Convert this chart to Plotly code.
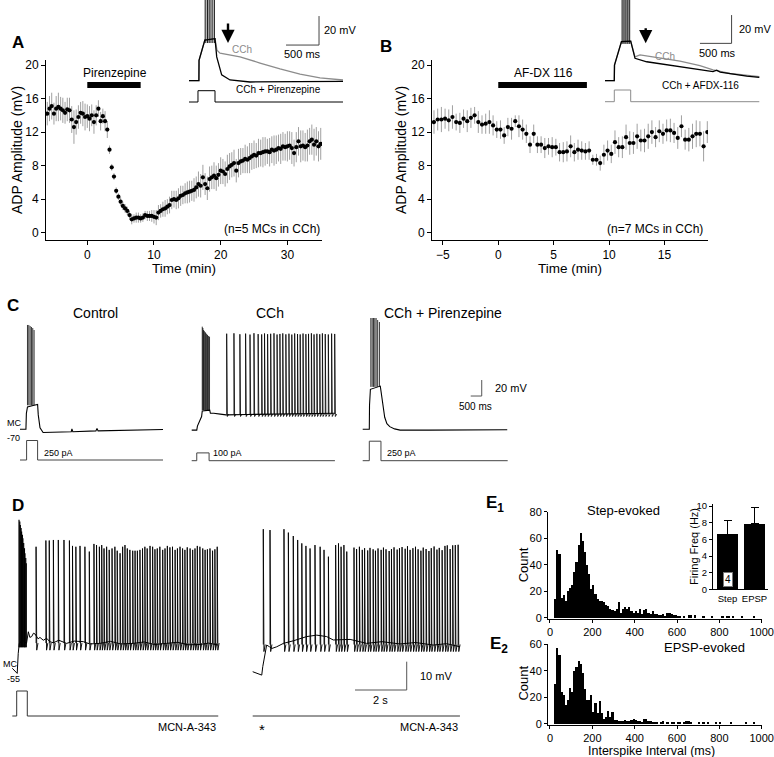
import numpy as np
import plotly.graph_objects as go

W, H = 774, 757
FONT = "Liberation Sans, Arial, sans-serif"
GREY = "#8c8c8c"
ERR_GREY = "#a0a0a0"
BAR_GREY = "#555555"

# ---------------- A: ADP amplitude during pirenzepine (20 s bins from -6 min)
a_start, a_bin = -6.0, 1 / 3
a_adp = [14.2, 14.8, 15.1, 14.2, 14.8, 15.0, 14.8, 14.6, 14.3, 14.7, 14.6, 13.5,
         12.6, 13.2, 13.8, 14.3, 14.2, 13.8, 13.9, 13.6, 14.0, 13.2, 14.0, 14.8,
         13.3, 13.9, 13.3, 12.3, 9.9, 7.8, 6.7, 5.0, 4.3, 3.7, 3.2, 2.9,
         2.6, 2.1, 1.6, 1.7, 1.8, 1.8, 1.7, 1.8, 2.1, 2.0, 2.0, 2.0,
         1.9, 1.8, 2.4, 2.6, 2.8, 2.9, 3.1, 3.3, 3.9, 4.0, 3.9, 4.1,
         4.4, 4.5, 4.7, 4.8, 4.9, 5.0, 5.1, 5.4, 5.8, 5.6, 6.6, 5.8,
         5.3, 6.4, 6.6, 6.8, 6.5, 6.9, 7.4, 7.3, 7.0, 7.6, 7.9, 8.1,
         8.3, 7.4, 8.3, 8.5, 8.6, 8.8, 8.7, 8.9, 9.1, 9.3, 9.2, 9.5,
         9.5, 9.6, 9.7, 9.7, 9.6, 9.9, 9.8, 9.9, 10.1, 10.0, 10.3, 10.2,
         10.3, 10.4, 10.1, 9.5, 10.2, 10.9, 10.3, 10.4, 10.2, 10.4, 10.9, 11.1,
         10.5, 10.9, 10.3, 10.6]
a_sem = [1.4, 1.5, 1.6, 1.3, 1.5, 1.7, 1.4, 1.5, 1.3, 1.4, 1.5, 1.6,
         2.0, 1.5, 1.4, 1.3, 1.5, 1.6, 1.4, 1.5, 1.3, 1.4, 1.2, 1.0,
         1.1, 0.9, 1.2, 1.0, 0.5, 0.4, 0.4, 0.4, 0.4, 0.5, 0.5, 0.5,
         0.5, 0.5, 0.6, 0.5, 0.6, 0.6, 0.5, 0.5, 0.5, 0.6, 0.6, 0.7,
         0.8, 0.9, 0.9, 0.8, 0.9, 1.0, 0.9, 1.0, 1.1, 1.0, 1.1, 1.2,
         1.2, 1.1, 1.2, 1.3, 1.3, 1.2, 1.4, 1.3, 1.5, 1.4, 1.5, 1.3,
         1.4, 1.5, 1.4, 1.6, 1.5, 1.4, 1.6, 1.5, 1.5, 1.7, 1.6, 1.5,
         1.6, 1.4, 1.7, 1.6, 1.5, 1.7, 1.6, 1.8, 1.6, 1.7, 1.5, 1.7,
         1.6, 1.8, 1.7, 1.5, 1.7, 1.6, 1.8, 1.7, 1.6, 1.8, 1.7, 1.6,
         1.8, 1.7, 1.9, 1.6, 1.8, 1.7, 1.9, 1.8, 1.7, 1.9, 1.6, 1.8,
         1.9, 1.7, 1.8, 1.9]

# ---------------- B: ADP amplitude during AF-DX 116
b_start, b_bin = -5.8, 1 / 3
b_adp = [13.2, 13.5, 13.5, 13.6, 13.4, 13.8, 13.2, 13.1, 13.6, 13.3, 13.7, 14.0,
         13.2, 12.9, 13.0, 13.2, 12.8, 12.3, 12.3, 11.6, 12.6, 12.4, 13.3, 12.7,
         12.3, 11.8, 10.5, 11.8, 10.5, 10.5, 10.1, 10.3, 10.2, 10.2, 9.6, 9.6,
         9.7, 10.3, 9.6, 9.9, 9.8, 9.7, 9.8, 8.7, 8.7, 8.3, 9.3, 9.8,
         9.4, 10.8, 10.2, 10.2, 11.4, 10.7, 10.7, 11.5, 11.0, 11.0, 11.5, 12.0,
         11.4, 12.1, 11.8, 12.2, 12.2, 11.9, 11.3, 12.7, 11.1, 11.1, 11.5, 11.8,
         11.8, 10.3, 12.0]
b_sem = [1.4, 1.3, 1.5, 1.2, 1.3, 1.4, 1.0, 1.2, 1.1, 1.3, 1.2, 1.0,
         1.3, 1.1, 1.2, 1.4, 1.2, 1.0, 1.1, 1.0, 1.1, 1.3, 0.7, 1.3,
         1.2, 1.1, 1.0, 1.1, 1.0, 1.0, 1.2, 1.0, 1.2, 1.0, 1.1, 1.2,
         1.2, 1.3, 1.1, 1.2, 1.1, 1.0, 1.1, 0.6, 0.7, 0.9, 1.2, 1.2,
         1.1, 1.4, 1.2, 1.3, 1.5, 1.4, 1.3, 1.5, 1.3, 1.4, 1.5, 1.4,
         1.2, 1.3, 1.2, 1.3, 1.4, 1.2, 1.3, 1.3, 1.2, 1.4, 1.5, 1.6,
         1.5, 1.8, 1.3]

# ---------------- A/B insets: example traces (ms, mV)
ia_cch_t = [0, 150, 152, 240, 394, 424, 470, 773, 1076, 1379, 1682, 1985, 2333]
ia_cch_v = [-70, -70, -56, -42, -41, -49, -51, -53.6, -57.8, -61.9, -65.4, -68.1, -69.5]
ia_pir_t = [0, 150, 152, 240, 394, 420, 495, 621, 924, 1500, 2333]
ia_pir_v = [-70, -70, -56, -42, -41, -53.6, -66, -69.5, -70.9, -70.6, -70.4]
ia_spk_pir = [245, 280, 315, 350, 385]
ia_spk_cch = [260, 295, 330, 365]
ia_step = (136, 394, 250, 2333)          # on, off, pA, end

ib_cch_t = [0, 147, 150, 260, 406, 474, 553, 869, 1185, 1500, 1706, 1975, 2438]
ib_cch_v = [-70, -70, -59, -42.4, -42, -53.2, -51.8, -54, -56.1, -59.3, -62.4, -64.9, -67.2]
ib_afdx_t = [0, 147, 150, 260, 406, 474, 659, 1185, 1706, 1765, 1820, 2239, 2438]
ib_afdx_v = [-70, -70, -59, -42.4, -42, -54.2, -56.6, -60.1, -63.6, -62.6, -63.9, -66.7, -67.6]
ib_spk_afdx = [270, 300, 330, 360, 390]
ib_spk_cch = [285, 315, 345, 375]
ib_step = (147, 406, 250, 2438)

# ---------------- C: step-evoked firing (s, mV)
c_ctl_t = [0, 0.27, 0.29, 0.32, 0.34, 0.64, 0.80, 0.83, 0.91, 1.05, 1.5, 2.33, 2.36,
           2.4, 3.45, 3.5, 3.55, 4.5, 5.5, 6.5]
c_ctl_v = [-70, -70, -50, -45, -42, -40, -39, -52, -68, -74, -73.5, -73, -69.5,
           -73, -72, -69, -72, -71.2, -70.6, -70.3]
c_ctl_spk_t = [0.34, 0.40, 0.46, 0.52, 0.58, 0.64]
c_ctl_spk_v = [60.4, 60.4, 59.1, 57.9, 56.6, 54.1]
c_ctl_step = (0.30, 0.80, 250, 6.5)

c_cch_t = [0, 0.23, 0.26, 0.38, 0.45, 0.48, 0.82, 0.85, 1.0, 1.3, 1.56, 2.5, 3.5, 4.5, 5.5, 6.5]
c_cch_v = [-71, -71, -66, -58, -54, -47, -46, -50, -50, -51, -52, -51.5, -51, -50.5, -50, -50]
c_cch_burst_t = [0.48, 0.51, 0.54, 0.57, 0.61, 0.64, 0.68, 0.72, 0.76, 0.81]
c_cch_burst_v = [58.3, 56.6, 54.1, 52.9, 51.6, 50.4, 49.1, 47.9, 46.6, 45.8]
c_cch_spk_t = [1.59, 1.92, 2.19, 2.45, 2.65, 2.83, 3.02, 3.18, 3.31, 3.45, 3.59, 3.74,
               3.88, 4.01, 4.14, 4.28, 4.42, 4.55, 4.68, 4.81, 4.93, 5.06, 5.19, 5.31,
               5.44, 5.56, 5.69, 5.82, 5.94, 6.07, 6.21, 6.36, 6.50]
c_cch_spk_v = [49.5, 50.0, 48.8, 49.6, 48.4, 50.1, 49.0, 48.6, 49.8, 48.9, 49.4, 50.0,
               48.5, 49.2, 49.9, 48.7, 49.5, 48.4, 49.8, 49.1, 48.6, 49.7, 48.9, 49.3,
               50.0, 48.6, 49.4, 48.8, 49.9, 49.0, 48.5, 49.6, 49.2]
c_cch_step = (0.23, 0.79, 100, 6.51)

c_pir_t = [0, 0.30, 0.31, 0.35, 0.80, 0.83, 0.9, 1.0, 1.1, 1.23, 1.45, 1.7, 3.0, 4.5, 6.57]
c_pir_v = [-70, -70, -40, -20, -16, -22, -40, -55, -63, -66.7, -69.5, -71, -71, -70.8, -70.6]
c_pir_spk_t = [0.37, 0.43, 0.49, 0.55, 0.61, 0.68, 0.76]
c_pir_spk_v = [72.9, 72.9, 71.6, 70.4, 69.1, 66.6, 64.1]
c_pir_step = (0.30, 0.83, 250, 6.59)

# ---------------- D: MCN-A-343 firing (s, mV)
d_step_burst_t = [0.26, 0.29, 0.31, 0.34, 0.36, 0.39, 0.41, 0.44, 0.47, 0.49, 0.52, 0.54]
d_step_burst_v = [-2.0, -2.6, -3.8, -4.9, -6.1, -7.3, -8.5, -10.2, -12.0, -13.8, -15.5, -17.3]
d_left_t = [0, 0.13, 0.19, 0.23, 0.27, 0.40, 0.55, 0.62, 0.68, 0.75, 0.82, 0.88, 1.0, 1.07,
            1.2, 1.33, 1.45, 1.59, 1.8, 2.1, 2.4, 2.75, 3.0, 3.39, 3.8, 4.2, 4.68, 5.1,
            5.5, 5.97, 6.4, 6.8, 7.26, 7.6, 7.97]
d_left_v = [-54.4, -55.9, -56.2, -49.1, -45.6, -44.5, -45.6, -41.5, -43.5, -43.2, -42.0,
            -42.3, -44.0, -43.5, -44.5, -43.8, -45.0, -45.4, -44.5, -45.6, -44.8, -45.0,
            -45.8, -45.6, -44.9, -45.8, -45.6, -45.1, -46.0, -45.6, -45.2, -46.1, -46.0,
            -45.5, -46.2]
d_left_spk_t = [0.92, 1.30, 1.43, 1.59, 1.78, 2.00, 2.21, 2.33, 2.46, 2.62, 2.81, 2.98,
                3.16, 3.26, 3.37, 3.46, 3.55, 3.65, 3.75, 3.86, 3.97, 4.06, 4.17, 4.27,
                4.36, 4.45, 4.55, 4.66, 4.75, 4.84, 4.94, 5.04, 5.13, 5.22, 5.33, 5.43,
                5.52, 5.61, 5.71, 5.82, 5.91, 6.00, 6.10, 6.20, 6.30, 6.39, 6.49, 6.59,
                6.68, 6.77, 6.88, 6.98, 7.07, 7.16, 7.26, 7.37, 7.46, 7.55, 7.65, 7.75,
                7.84, 7.93]
d_left_spk_v = [-11.5, -9.3, -9.3, -9.1, -9.1, -9.1, -9.3, -11.2, -11.5, -11.2, -11.5, -13.2,
                -10.5, -10.9, -11.5, -10.9, -12.1, -11.5, -12.6, -12.1, -11.5, -12.9, -13.8, -11.5,
                -10.9, -12.1, -12.6, -12.9, -12.9, -12.9, -12.6, -12.1, -11.5, -12.1, -11.2, -11.5,
                -12.4, -12.1, -11.5, -12.6, -12.1, -11.2, -11.7, -11.5, -12.6, -12.1, -11.5, -12.1,
                -12.6, -11.7, -12.1, -12.6, -12.1, -11.2, -11.5, -12.1, -12.6, -12.4, -12.1, -12.9,
                -12.4, -11.5]
d_left_step = (0.17, 0.58, 200, 7.97)

d_right_t = [0, 0.22, 0.35, 0.39, 0.48, 0.54, 0.65, 0.74, 0.93, 1.19, 1.57, 2.09, 2.48,
             2.86, 3.12, 3.77, 4.41, 5.0, 5.70, 6.3, 6.99, 7.5, 8.02]
d_right_v = [-55.6, -56.2, -56.8, -53.8, -49.1, -46.2, -46.8, -47.4, -46.8, -45.6, -44.7,
             -43.2, -42.7, -43.2, -44.4, -44.2, -45.6, -45.0, -45.8, -45.3, -46.2, -45.7, -46.8]
d_right_spk_t = [0.41, 0.67, 1.21, 1.38, 1.57, 1.74, 1.90, 2.06, 2.22, 2.41, 2.61, 2.76,
                 2.93, 3.21, 3.32, 3.42, 3.53, 3.64, 3.92, 4.02, 4.13, 4.24, 4.33, 4.45,
                 4.54, 4.66, 4.75, 4.85, 4.97, 5.06, 5.16, 5.28, 5.37, 5.47, 5.59, 5.68,
                 5.78, 5.90, 5.99, 6.09, 6.20, 6.30, 6.40, 6.51, 6.60, 6.71, 6.82, 6.91,
                 7.02, 7.13, 7.22, 7.33, 7.44, 7.53, 7.64, 7.74, 7.84, 7.95]
d_right_spk_v = [-5.3, -5.6, -5.3, -6.5, -7.7, -9.1, -10.3, -11.2, -12.1, -10.9, -11.5, -12.6,
                 -15.0, -10.9, -10.3, -11.5, -10.9, -13.2, -11.8, -12.3, -11.5, -12.6, -12.0, -12.8,
                 -11.9, -12.4, -12.9, -12.1, -12.6, -11.8, -12.4, -13.0, -12.3, -11.7, -12.5, -12.0,
                 -11.6, -12.2, -11.3, -12.6, -12.0, -11.5, -12.4, -12.9, -11.8, -12.3, -13.0, -12.0,
                 -11.4, -12.5, -11.9, -12.7, -11.2, -11.0, -12.3, -11.0, -10.9, -10.8]
d_right_end = 8.02

# ---------------- E: interspike interval histograms (10 ms bins from 20 ms)
isi_first, isi_bin = 20, 10
e1_counts = [14, 51, 48, 15, 17, 13, 20, 23, 25, 35,
             42, 55, 64, 58, 50, 40, 33, 22, 25, 18,
             14, 13, 13, 12, 10, 9, 7, 6, 5, 7,
             12, 4, 7, 8, 7, 8, 5, 4, 5, 4,
             7, 3, 6, 7, 4, 3, 5, 3, 3, 2,
             2, 3, 1, 4, 4, 3, 2, 2, 1, 1,
             0, 1, 0, 2, 2, 0, 2, 0, 0, 0,
             1, 0, 0, 0, 1, 0, 0, 0, 0, 1,
             0, 1, 1, 0, 1, 0, 0, 0, 1, 0,
             0, 0, 0, 0, 1, 0, 0, 0]
e2_counts = [30, 57, 52, 24, 22, 14, 18, 27, 24, 40,
             43, 47, 45, 38, 26, 18, 18, 22, 9, 16,
             8, 17, 8, 4, 5, 10, 5, 9, 3, 3,
             2, 2, 2, 3, 2, 2, 3, 4, 3, 2,
             2, 1, 4, 4, 2, 2, 1, 1, 1, 0,
             1, 2, 0, 1, 0, 1, 1, 0, 1, 1,
             0, 1, 2, 2, 1, 0, 0, 0, 1, 0,
             1, 0, 1, 0, 0, 0, 1, 0, 1, 0,
             0, 0, 0, 1, 0, 0, 0, 0, 0, 0,
             1, 0, 0, 0, 1, 0, 0, 0]
freq_labels = ["Step", "EPSP"]
freq_mean = [6.6, 7.85]
freq_sem = [1.7, 1.95]
freq_n = "4"


# ---------------- helpers
def fx(px):
    return px / W


def fy(py):
    return 1 - py / H


def xid(n):
    return "x" if n == 1 else f"x{n}"


def yid(n):
    return "y" if n == 1 else f"y{n}"


layout = {}
traces = []
shapes = []
annotations = []

HIDDEN = dict(visible=False, showgrid=False, zeroline=False)
AXIS = dict(showline=True, linecolor="black", linewidth=1, ticks="outside", ticklen=4,
            tickwidth=1, tickcolor="black", showgrid=False, zeroline=False,
            tickfont=dict(size=12, family=FONT, color="black"))


def add_axes(n, xbox, ybox, xr, yr, xopt=None, yopt=None):
    xkey = "xaxis" if n == 1 else f"xaxis{n}"
    ykey = "yaxis" if n == 1 else f"yaxis{n}"
    layout[xkey] = dict(domain=[fx(xbox[0]), fx(xbox[1])], range=xr, anchor=yid(n),
                        **(xopt if xopt is not None else HIDDEN))
    layout[ykey] = dict(domain=[fy(ybox[1]), fy(ybox[0])], range=yr, anchor=xid(n),
                        **(yopt if yopt is not None else HIDDEN))


def trace_axes(n, xbox, ybox, t0_px, px_per_t, v_px, v_ref, px_per_mv):
    xr = [(xbox[0] - t0_px) / px_per_t, (xbox[1] - t0_px) / px_per_t]
    yr = [v_ref - (ybox[1] - v_px) / px_per_mv, v_ref + (v_px - ybox[0]) / px_per_mv]
    add_axes(n, xbox, ybox, xr, yr)


def current_axis(m, n, ybox, zero_px, px_per_pa):
    layout[f"yaxis{m}"] = dict(overlaying=yid(n), anchor=xid(n), visible=False,
                               range=[-(ybox[1] - zero_px) / px_per_pa,
                                      (zero_px - ybox[0]) / px_per_pa])


def line(x, y, n, m=None, color="black", width=1.0):
    traces.append(go.Scatter(x=x, y=y, mode="lines", xaxis=xid(n), yaxis=yid(m or n),
                             line=dict(color=color, width=width), hoverinfo="skip",
                             showlegend=False))


def spikes(times, peaks, base, n, color="black", width=1.0, ahp=0.0, dt=0.0):
    # each spike: rise from base to peak, fall to an after-hyperpolarisation, back to base
    xs, ys = [], []
    for t, p in zip(times, peaks):
        if ahp:
            xs += [t, t, t + dt, t + 3 * dt, None]
            ys += [base, p, base - ahp, base, None]
        else:
            xs += [t, t, None]
            ys += [base, p, None]
    line(xs, ys, n, color=color, width=width)


def step(spec, n, m, color="#333333", width=1.0):
    on, off, amp, end = spec
    line([0, on, on, off, off, end], [0, 0, amp, amp, 0, 0], n, m, color, width)


def seg(n, x0, y0, x1, y1, color=BAR_GREY, width=1):
    shapes.append(dict(type="line", xref=xid(n), yref=yid(n), x0=x0, y0=y0, x1=x1, y1=y1,
                       line=dict(color=color, width=width)))


def text(x, y, s, size=12, anchor="center", color="black", bold=False, angle=0, **kw):
    annotations.append(dict(x=fx(x), y=fy(y), xref="paper", yref="paper", text=s,
                            showarrow=False, xanchor=anchor, yanchor="middle",
                            textangle=angle,
                            font=dict(size=size, family=FONT, color=color,
                                      weight="bold" if bold else "normal"), **kw))


def arrow(x, y_tail, y_head):
    annotations.append(dict(x=fx(x), y=fy(y_head), xref="paper", yref="paper", text="",
                            showarrow=True, ax=0, ay=-(y_head - y_tail), arrowhead=2,
                            arrowsize=1.1, arrowwidth=2.4, arrowcolor="black"))


# ---------------- A main
add_axes(1, (46, 322), (60, 240), [-6.19, 35.19], [-0.87, 20.6],
         dict(AXIS, tickvals=[0, 10, 20, 30]), dict(AXIS, tickvals=[0, 4, 8, 12, 16, 20]))
a_t = a_start + a_bin * np.arange(len(a_adp))
traces.append(go.Scatter(x=a_t, y=a_adp, mode="markers", xaxis="x", yaxis="y",
                         marker=dict(size=4.2, color="black"), showlegend=False,
                         error_y=dict(type="data", array=a_sem, color=ERR_GREY,
                                      thickness=1, width=0)))
shapes.append(dict(type="rect", xref="x", yref="y", x0=0, x1=8, y0=17.26, y1=17.97,
                   fillcolor="black", line=dict(width=0)))
text(115, 72.7, "Pirenzepine", 12)
text(321.7, 229.3, "(n=5 MCs in CCh)", 12, anchor="right")
text(184, 268.5, "Time (min)", 13.5)
text(17, 150, "ADP Amplitude (mV)", 14, angle=-90)
text(18, 43, "A", 17, bold=True)

# A inset
trace_axes(2, (185, 345), (0, 106), 189, 1 / 15.15, 80.7, -70, 1 / 0.69)
current_axis(3, 2, (0, 106), 102, 11.3 / 250)
line(ia_cch_t, ia_cch_v, 2, color=GREY, width=1.3)
spikes(ia_spk_cch, [20] * len(ia_spk_cch), -44, 2, color=GREY, width=0.9)
line(ia_pir_t, ia_pir_v, 2, width=1.3)
spikes(ia_spk_pir, [20] * len(ia_spk_pir), -44, 2, width=0.9)
step(ia_step, 2, 3, color="black")
seg(2, 1970, -45.4, 1970, -25.4, color="#444")
seg(2, 1470, -45.4, 1970, -45.4, color="#444")
text(322, 30, "20 mV", 11, anchor="left")
text(302, 54, "500 ms", 11)
text(242, 49, "CCh", 10, color=GREY)
text(278, 89, "CCh + Pirenzepine", 10)
arrow(228, 22, 43)

# ---------------- B main
add_axes(4, (432, 708), (60, 240), [-5.98, 18.93], [-0.87, 20.6],
         dict(AXIS, tickvals=[-5, 0, 5, 10, 15]), dict(AXIS, tickvals=[0, 4, 8, 12, 16, 20]))
b_t = b_start + b_bin * np.arange(len(b_adp))
traces.append(go.Scatter(x=b_t, y=b_adp, mode="markers", xaxis="x4", yaxis="y4",
                         marker=dict(size=4.2, color="black"), showlegend=False,
                         error_y=dict(type="data", array=b_sem, color=ERR_GREY,
                                      thickness=1, width=0)))
shapes.append(dict(type="rect", xref="x4", yref="y4", x0=0, x1=8, y0=17.26, y1=17.97,
                   fillcolor="black", line=dict(width=0)))
text(543.3, 72.7, "AF-DX 116", 12)
text(705, 229.3, "(n=7 MCs in CCh)", 12, anchor="right")
text(570, 268.5, "Time (min)", 13.5)
text(401, 150, "ADP Amplitude (mV)", 14, angle=-90)
text(386, 46, "B", 17, bold=True)

# B inset
trace_axes(5, (600, 762), (0, 106), 605, 1 / 15.8, 80.7, -70, 1 / 0.707)
current_axis(6, 5, (0, 106), 101.7, 11.7 / 250)
line(ib_cch_t, ib_cch_v, 5, color=GREY, width=1.3)
spikes(ib_spk_cch, [20] * len(ib_spk_cch), -44, 5, color=GREY, width=0.9)
line(ib_afdx_t, ib_afdx_v, 5, width=1.3)
spikes(ib_spk_afdx, [20] * len(ib_spk_afdx), -44, 5, width=0.9)
step(ib_step, 5, 6, color=GREY)
seg(5, 2000, -43.6, 2000, -23.6, color="#444")
seg(5, 1500, -43.6, 2000, -43.6, color="#444")
text(736.7, 29, "20 mV", 11, anchor="left")
text(717, 53, "500 ms", 11)
text(665, 56, "CCh", 10, color=GREY)
text(700, 85, "CCh + AFDX-116", 10)
arrow(645.7, 26.7, 43.3)

# ---------------- C
text(13, 306, "C", 17, bold=True)
c_panels = [
    (7, 8, 20, c_ctl_t, c_ctl_v, [(c_ctl_spk_t, c_ctl_spk_v, -40, 0)], c_ctl_step, 460.0, 95,
     "Control"),
    (9, 10, 191.7, c_cch_t, c_cch_v, [(c_cch_burst_t, c_cch_burst_v, -46, 0),
                                      (c_cch_spk_t, c_cch_spk_v, -51, 3)], c_cch_step, 460.7,
     270, "CCh"),
    (11, 12, 362.7, c_pir_t, c_pir_v, [(c_pir_spk_t, c_pir_spk_v, -17, 0)], c_pir_step, 460.7,
     443, "CCh + Pirenzepine"),
]
for n, m, x0, tt, vv, spk, stp, zero_px, title_x, title in c_panels:
    box = (x0 - 6, x0 + 150)
    trace_axes(n, box, (318, 468), x0, 22, 429.3, -70, 0.8)
    current_axis(m, n, (318, 468), zero_px, 0.078)
    line(tt, vv, n, width=1.1)
    for st, sv, base, ahp in spk:
        spikes(st, sv, base, n, width=0.8, ahp=ahp, dt=0.03)
    step(stp, n, m, color="#444")
    text(title_x, 313, title, 14)
text(5, 422.7, "MC", 9, anchor="left")
text(5, 437.7, "-70", 9, anchor="left")
text(41.7, 452.7, "250 pA", 9, anchor="left")
text(210.7, 453.3, "100 pA", 9, anchor="left")
text(385, 452.7, "250 pA", 9, anchor="left")
seg(11, 5.41, -28.4, 5.41, -8.4)
seg(11, 4.91, -28.4, 5.41, -28.4)
text(493, 388, "20 mV", 11, anchor="left")
text(476, 406.7, "500 ms", 10)

# ---------------- D
text(18, 505, "D", 17, bold=True)
trace_axes(13, (8, 222), (495, 722), 12.3, 25.84, 670, -55, 2.833)
current_axis(14, 13, (495, 722), 716, 0.125)
line(d_left_t, d_left_v, 13, width=1.0)
spikes(d_step_burst_t, d_step_burst_v, -47, 13, width=1.2)
spikes(d_left_spk_t, d_left_spk_v, -45.5, 13, width=0.9, ahp=2.5, dt=0.025)
step(d_left_step, 13, 14, color="#333")

trace_axes(15, (248, 464), (495, 722), 252.7, 25.84, 670, -55, 2.833)
current_axis(16, 15, (495, 722), 716, 0.125)
line(d_right_t, d_right_v, 15, width=1.0)
spikes(d_right_spk_t, d_right_spk_v, -46, 15, width=0.9, ahp=2.5, dt=0.025)
line([0, d_right_end], [0, 0], 15, 16, color="#333")
seg(15, 5.96, -62.06, 5.96, -52.06)
seg(15, 3.96, -62.06, 5.96, -62.06)
text(418.3, 676, "10 mV", 11, anchor="left")
text(380, 700, "2 s", 11)
text(1, 664.3, "MC", 9, anchor="left")
text(5, 679.3, "-55", 9, anchor="left")
text(218.3, 727, "MCN-A-343", 11, anchor="right")
text(460, 727, "MCN-A-343", 11, anchor="right")
text(262.3, 729, "*", 15)

# ---------------- E histograms
EAX = dict(AXIS, tickfont=dict(size=11, family=FONT, color="black"), ticklen=3)
bin_left = isi_first + isi_bin * np.arange(len(e1_counts))
add_axes(17, (548, 762), (511.7, 619), [-9.4, 1001.4], [-1.0, 80],
         dict(EAX, tickvals=[0, 200, 400, 600, 800, 1000]), dict(EAX, tickvals=[0, 20, 40, 60, 80]))
traces.append(go.Bar(x=bin_left, y=e1_counts, width=isi_bin, offset=0, xaxis="x17", yaxis="y17",
                     marker=dict(color="black", line=dict(width=0)), showlegend=False))
bin_left2 = isi_first + isi_bin * np.arange(len(e2_counts))
add_axes(18, (548, 762), (644, 724.5), [-9.4, 1001.4], [-0.4, 60],
         dict(EAX, tickvals=[0, 200, 400, 600, 800, 1000]), dict(EAX, tickvals=[0, 20, 40, 60]))
traces.append(go.Bar(x=bin_left2, y=e2_counts, width=isi_bin, offset=0, xaxis="x18", yaxis="y18",
                     marker=dict(color="black", line=dict(width=0)), showlegend=False))
text(495, 504, "E<sub>1</sub>", 17, bold=True)
text(499, 645, "E<sub>2</sub>", 17, bold=True)
text(623.3, 510.7, "Step-evoked", 13)
text(704, 647.5, "EPSP-evoked", 13)
text(651.7, 750.5, "Interspike Interval (ms)", 12.5)
text(523.3, 565, "Count", 13, angle=-90)
text(523.3, 683.3, "Count", 13, angle=-90)

# E1 inset: firing frequency
IAX = dict(AXIS, tickfont=dict(size=9.5, family=FONT, color="black"), ticklen=3)
add_axes(19, (713, 768), (504, 589.3), [-0.537, 1.5], [0, 10.25],
         dict(IAX, ticks="", type="category"), dict(IAX, tickvals=[0, 2, 4, 6, 8, 10]))
traces.append(go.Bar(x=freq_labels, y=freq_mean, width=0.76, xaxis="x19", yaxis="y19",
                     marker=dict(color="black", line=dict(width=0)), showlegend=False,
                     error_y=dict(type="data", array=freq_sem, arrayminus=[0, 0], symmetric=False,
                                  color="black", thickness=1, width=4)))
text(693.3, 546.7, "Firing Freq (Hz)", 11, angle=-90)
annotations.append(dict(x=fx(728), y=fy(579), xref="paper", yref="paper", text=freq_n,
                        showarrow=False, xanchor="center", yanchor="middle", bgcolor="white",
                        bordercolor="#777", borderwidth=1, borderpad=1,
                        font=dict(size=10, family=FONT, color="black")))

fig = go.Figure(data=traces)
fig.update_layout(**layout)
fig.update_layout(width=W, height=H, margin=dict(l=0, r=0, t=0, b=0), template="none",
                  paper_bgcolor="white", plot_bgcolor="rgba(0,0,0,0)", showlegend=False,
                  shapes=shapes, annotations=annotations, bargap=0,
                  font=dict(family=FONT, color="black"))
# the page's default 8 px body margin would shift and clip the figure
fig.write_html("out.html", config={"displayModeBar": False},
               post_script="document.body.style.margin='0px';")
